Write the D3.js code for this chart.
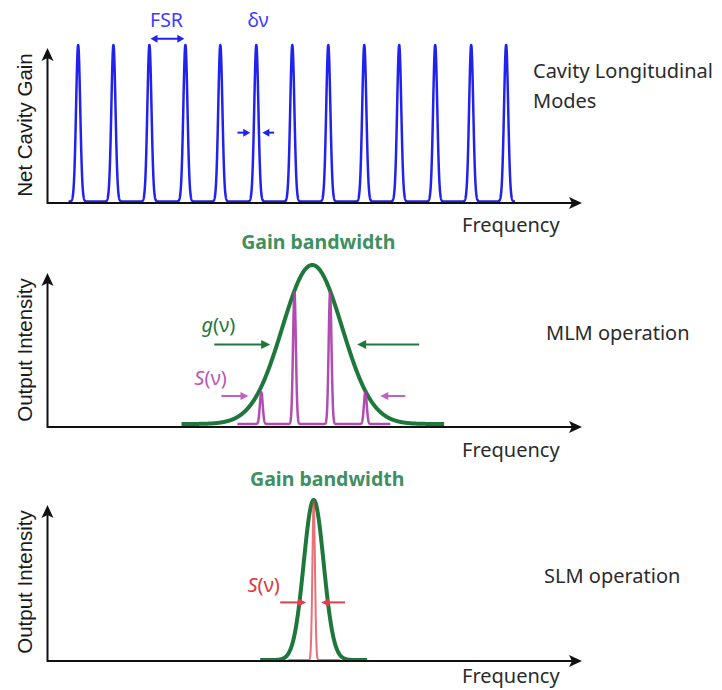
<!DOCTYPE html>
<html>
<head>
<meta charset="utf-8">
<script src="https://cdn.jsdelivr.net/npm/d3@7"></script>
<style>
  body { margin: 0; background: #fff; }
  svg { display: block; }
</style>
</head>
<body>
<div id="chart"><svg></svg></div>
<script>
// ---- data: frequency in units of the free spectral range, intensity 0..1 ----
var freqDomain = [0, 15];

var cavityModeFreqs = [0.86, 1.85, 2.86, 3.87, 4.85, 5.86, 6.87, 7.88, 8.89, 9.87, 10.88, 11.89, 12.87];
var cavityModeGain  = [1, 1, 1, 1, 1, 1, 1, 1, 1, 1, 1, 1, 1];
var cavitySpan      = [0.59, 13.12];
var cavityLinewidth = 0.058;

var mlmGainCenter = 7.43, mlmGainSigma = 0.84;
var mlmGainSpan   = [3.76, 11.13];
var mlmModeFreqs  = [6.0, 6.93, 7.93, 8.92];
var mlmModePower  = [0.2, 0.83, 0.83, 0.2];
var mlmModeSpan   = [5.33, 9.62];

var slmGainCenter = 7.47, slmGainSigma = 0.28;
var slmGainSpan   = [5.97, 8.97];
var slmModeFreqs  = [7.47];
var slmModePower  = [0.99];
var slmModeSpan   = [6.76, 8.21];
var laserLinewidth = 0.04;

// annotation arrows: [from freq, to freq, level]
var fsrArrow      = [2.89, 3.84, 1.04];
var deltaNuArrows = [[5.33, 5.69, 0.44], [6.36, 6.03, 0.44]];
var gainArrows    = [[4.68, 6.25, 0.5], [10.43, 8.69, 0.5]];
var mlmSArrows    = [[4.88, 5.64, 0.176], [10.04, 9.34, 0.176]];
var slmSArrows    = [[6.53, 7.26, 0.36], [8.35, 7.68, 0.36]];

var panelTitles = [["Cavity Longitudinal", "Modes"], ["MLM operation"], ["SLM operation"]];
var yAxisTitles = ["Net Cavity Gain", "Output Intensity", "Output Intensity"];
var xAxisTitle  = "Frequency";

/**
 * Panel layout (pixels)
 */
var W = 722, H = 690;
var panels = [
    {top: 45,  zero: 201.5, axisY: 203, arrowTop: 48,  titleX: 533, titleY: 78,  labelY: 125, freqY: 232},
    {top: 265, zero: 424,   axisY: 427, arrowTop: 273, titleX: 546, titleY: 340, labelY: 350, freqY: 457},
    {top: 500, zero: 660,   axisY: 661, arrowTop: 505, titleX: 544, titleY: 583, labelY: 582, freqY: 683}
];

var BLUE = '#2222ee', GREEN = '#1e783c', MAGENTA = '#a83aa8', RED = '#e0404c';

var svg = d3.select('#chart').select('svg')
    .attr('width', W)
    .attr('height', H);

var x = d3.scaleLinear().domain(freqDomain).range([47.5, 582]);

// arrow heads
var defs = svg.append('defs');
function addHead(id, color, len, half, notch) {
    defs.append('marker')
        .attr('id', id)
        .attr('markerUnits', 'userSpaceOnUse')
        .attr('viewBox', '-20 -10 30 20')
        .attr('markerWidth', 30).attr('markerHeight', 20)
        .attr('refX', 0).attr('refY', 0)
        .attr('orient', 'auto-start-reverse')
        .append('path')
        .attr('d', 'M3,0 L' + (3 - len) + ',' + (-half) + ' L' + (3 - len + notch) + ',0 L' + (3 - len) + ',' + half + ' Z')
        .attr('fill', color);
}
addHead('head-axis', '#111', 13, 6, 3);
addHead('head-blue', BLUE, 7, 4, 0);
addHead('head-green', GREEN, 9, 4.5, 0);
addHead('head-magenta', '#c060c0', 8, 4, 0);
addHead('head-red', RED, 8, 4, 0);

/**
 * gaussian line shape, max over modes
 */
function profile(freqs, power, sigma) {
    return function (f) {
        var v = 0;
        for (var i = 0; i < freqs.length; i++) {
            var d = (f - freqs[i]) / sigma;
            v = Math.max(v, power[i] * Math.exp(-0.5 * d * d));
        }
        return v;
    };
}

function drawCurve(g, y, span, fn, color, width, opacity) {
    var pts = d3.range(span[0], span[1] + 0.002, 0.003).map(function (f) { return [f, fn(f)]; });
    g.append('path')
        .datum(pts)
        .attr('fill', 'none')
        .attr('stroke', color)
        .attr('stroke-width', width)
        .attr('stroke-opacity', opacity || 1)
        .attr('stroke-linejoin', 'round')
        .attr('d', d3.line()
            .x(function (d) { return x(d[0]); })
            .y(function (d) { return y(d[1]); }));
}

function drawArrow(g, y, a, color, head, both) {
    var x1 = x(a[0]), x2 = x(a[1]), dir = x2 > x1 ? 1 : -1;
    g.append('line')
        .attr('x1', both ? x1 + 3 * dir : x1).attr('x2', x2 - 3 * dir)
        .attr('y1', y(a[2])).attr('y2', y(a[2]))
        .attr('stroke', color)
        .attr('stroke-width', 2)
        .attr('marker-start', both ? 'url(#' + head + ')' : null)
        .attr('marker-end', 'url(#' + head + ')');
}

function drawLabel(g, px, py, parts, color, anchor) {
    var t = g.append('text')
        .attr('x', px).attr('y', py)
        .attr('fill', color)
        .attr('text-anchor', anchor || 'start')
        .style('font-family', '"Noto Sans", sans-serif')
        .style('font-size', '20px');
    parts.forEach(function (p) {
        t.append('tspan').attr('font-style', p[1] ? 'italic' : 'normal').text(p[0]);
    });
    return t;
}

// ---- frames: titles ----
var ys = panels.map(function (p, i) {
    var y = d3.scaleLinear().domain([0, 1]).range([p.zero, p.top]);
    var g = svg.append('g').attr('class', 'panel-' + i);
    p.g = g;

    g.append('text')
        .attr('transform', 'translate(32,' + p.labelY + ') rotate(-90)')
        .attr('text-anchor', 'middle')
        .attr('fill', '#1a1a1a')
        .style('font-family', '"Liberation Sans", Arial, sans-serif')
        .style('font-size', '20.5px')
        .text(yAxisTitles[i]);

    var tt = g.append('text')
        .attr('x', p.titleX).attr('y', p.titleY)
        .attr('fill', '#2b2b2b')
        .style('font-family', '"Noto Sans", sans-serif')
        .style('font-size', '20px');
    panelTitles[i].forEach(function (line, k) {
        tt.append('tspan').attr('x', p.titleX).attr('dy', k ? 30 : 0).text(line);
    });

    g.append('text')
        .attr('x', 462).attr('y', p.freqY)
        .attr('fill', '#2b2b2b')
        .style('font-family', '"Noto Sans", sans-serif')
        .style('font-size', '20px')
        .text(xAxisTitle);
    return y;
});

// ---- panel 1: cavity longitudinal modes ----
(function () {
    var p = panels[0], y = ys[0], g = p.g;
    drawCurve(g, y, cavitySpan, profile(cavityModeFreqs, cavityModeGain, cavityLinewidth), BLUE, 2.5);
    drawArrow(g, y, fsrArrow, BLUE, 'head-blue', true);
    deltaNuArrows.forEach(function (a) { drawArrow(g, y, a, BLUE, 'head-blue'); });
    drawLabel(g, x(3.34), y(1.115), [['FSR']], '#3b3bff', 'middle').style('font-size', '19.5px');
    drawLabel(g, x(5.91), y(1.115), [['δν']], '#3b3bff', 'middle').style('font-size', '19.5px');
})();

// ---- panel 2: multi longitudinal mode ----
(function () {
    var p = panels[1], y = ys[1], g = p.g;
    drawCurve(g, y, mlmGainSpan, profile([mlmGainCenter], [1], mlmGainSigma), GREEN, 4);
    drawCurve(g, y, mlmModeSpan, profile(mlmModeFreqs, mlmModePower, laserLinewidth), MAGENTA, 2.5, 0.9);
    gainArrows.forEach(function (a) { drawArrow(g, y, a, GREEN, 'head-green'); });
    mlmSArrows.forEach(function (a) { drawArrow(g, y, a, '#c060c0', 'head-magenta'); });
    drawLabel(g, x(4.32), y(0.58), [['g', true], ['(ν)']], GREEN);
    drawLabel(g, x(4.12), y(0.245), [['S', true], ['(ν)']], '#bb55bb');
    drawLabel(g, x(7.6), y(1.10), [['Gain bandwidth']], '#3f8f5f', 'middle')
        .style('font-size', '19.5px').style('font-weight', 'bold');
})();

// ---- panel 3: single longitudinal mode ----
(function () {
    var p = panels[2], y = ys[2], g = p.g;
    drawCurve(g, y, slmGainSpan, profile([slmGainCenter], [1], slmGainSigma), GREEN, 4);
    drawCurve(g, y, slmModeSpan, profile(slmModeFreqs, slmModePower, laserLinewidth * 0.9), RED, 2, 0.75);
    slmSArrows.forEach(function (a) { drawArrow(g, y, a, RED, 'head-red'); });
    drawLabel(g, x(5.61), y(0.425), [['S', true], ['(ν)']], '#e0363f');
    drawLabel(g, x(7.85), y(1.0875), [['Gain bandwidth']], '#3f8f5f', 'middle')
        .style('font-size', '19.5px').style('font-weight', 'bold');
})();

// ---- axes drawn last so they sit on top of the baselines ----
panels.forEach(function (p) {
    p.g.append('line')
        .attr('x1', x(0)).attr('x2', x(freqDomain[1]) - 3)
        .attr('y1', p.axisY).attr('y2', p.axisY)
        .attr('stroke', '#111').attr('stroke-width', 2)
        .attr('marker-end', 'url(#head-axis)');
    p.g.append('line')
        .attr('x1', x(0)).attr('x2', x(0))
        .attr('y1', p.axisY + 1).attr('y2', p.arrowTop + 3)
        .attr('stroke', '#111').attr('stroke-width', 2)
        .attr('marker-end', 'url(#head-axis)');
});
</script>
</body>
</html>
